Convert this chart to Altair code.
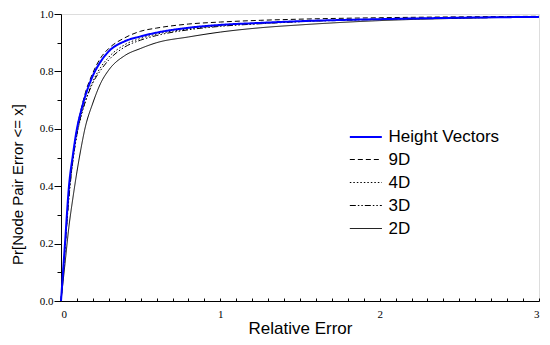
import altair as alt
import pandas as pd

# Relative error grid (x) and CDF values
x_vals = [0, 0.025, 0.05, 0.075, 0.1, 0.125, 0.15, 0.2, 0.25, 0.3, 0.4, 0.5, 0.6, 0.8, 1.0, 1.25, 1.5, 2.0, 2.5, 3.0]
height_vectors = [0, 0.20, 0.40, 0.51, 0.60, 0.66, 0.71, 0.785, 0.835, 0.87, 0.905, 0.922, 0.935, 0.952, 0.962, 0.969, 0.975, 0.982, 0.987, 0.99]
d9 = [0, 0.19, 0.38, 0.50, 0.60, 0.665, 0.72, 0.795, 0.848, 0.88, 0.917, 0.94, 0.951, 0.965, 0.972, 0.978, 0.982, 0.987, 0.99, 0.992]
d4 = [0, 0.18, 0.37, 0.49, 0.58, 0.64, 0.69, 0.765, 0.815, 0.85, 0.893, 0.915, 0.93, 0.948, 0.959, 0.967, 0.974, 0.982, 0.987, 0.99]
d3 = [0, 0.18, 0.36, 0.49, 0.58, 0.645, 0.69, 0.76, 0.805, 0.84, 0.885, 0.909, 0.925, 0.945, 0.957, 0.966, 0.973, 0.981, 0.986, 0.99]
d2 = [0, 0.13, 0.26, 0.36, 0.45, 0.53, 0.60, 0.69, 0.76, 0.805, 0.855, 0.88, 0.90, 0.92, 0.937, 0.952, 0.962, 0.977, 0.985, 0.99]

series_names = ["Height Vectors", "9D", "4D", "3D", "2D"]
series_colors = ["#0000ff", "black", "black", "black", "black"]
series_dashes = [[1, 0], [5, 3], [1.5, 2], [6, 2, 1.5, 2, 1.5, 2], [1, 0]]
series_widths = [2, 1, 1, 1, 1]

x_ticks = [round(i * 0.1, 1) for i in range(31)]
y_ticks = [round(i * 0.1, 1) for i in range(11)]

rows = []
for name, vals in [("2D", d2), ("3D", d3), ("4D", d4), ("9D", d9), ("Height Vectors", height_vectors)]:
    for xv, yv in zip(x_vals, vals):
        rows.append({"x": xv, "y": yv, "series": name})
df = pd.DataFrame(rows)

xscale = alt.Scale(domain=[0, 3], nice=False)
yscale = alt.Scale(domain=[0, 1], nice=False)

yaxis = alt.Axis(
    values=y_ticks,
    labelExpr="round(datum.value*10)%2===0 ? format(datum.value,'.1f') : ''",
    tickSize={"condition": {"test": "round(datum.value*10)%2===0", "value": 7}, "value": 4},
    grid=False, domainColor="black", tickColor="black",
    labelFont="Liberation Serif", labelFontSize=11, labelColor="black", labelPadding=1,
    title="Pr[Node Pair Error <= x]", titleFont="Liberation Sans", titleFontSize=15,
    titleFontWeight="normal", titleColor="black", titleX=-44, titleY=170,
    titleBaseline="middle", titleAngle=270,
)

legend = alt.Legend(
    orient="none", legendX=287.5, legendY=111, title=None,
    symbolType="M-1,0H2", symbolSize=455, labelFontSize=17, labelFont="Liberation Sans",
    labelColor="black", labelOffset=16, rowPadding=3, padding=0,
)

lines = alt.Chart(df).mark_line(interpolate="monotone").encode(
    x=alt.X("x:Q", scale=xscale, axis=alt.Axis(
        values=[0, 1, 2, 3], ticks=False, grid=False, domainColor="black",
        labelFont="Liberation Serif", labelFontSize=11, labelColor="black", labelPadding=7,
        title="Relative Error", titleFont="Liberation Sans", titleFontSize=17,
        titleFontWeight="normal", titleColor="black", titleY=32, titleBaseline="alphabetic",
    )),
    y=alt.Y("y:Q", scale=yscale, axis=yaxis),
    color=alt.Color("series:N", scale=alt.Scale(domain=series_names, range=series_colors), legend=legend),
    strokeDash=alt.StrokeDash("series:N", scale=alt.Scale(domain=series_names, range=series_dashes), legend=legend),
    strokeWidth=alt.StrokeWidth("series:N", scale=alt.Scale(type="ordinal", domain=series_names, range=series_widths), legend=legend),
)

tick_layer = alt.Chart(df).mark_line(opacity=0).encode(
    x=alt.X("x:Q", scale=xscale, axis=alt.Axis(
        orient="bottom", offset=-3, values=x_ticks, tickSize=3, tickColor="black",
        labels=False, domain=False, grid=False, title=None,
    )),
    y=alt.Y("y:Q", scale=yscale, axis=yaxis),
)

chart = alt.layer(lines, tick_layer).resolve_axis(x="independent").properties(
    width=478, height=287,
    autosize=alt.AutoSizeParams(type="none"),
    padding={"left": 53, "top": 6, "right": 3, "bottom": 36},
).configure_view(stroke=None).configure(background="white")

chart.save("out.html", embed_options={"renderer": "svg", "actions": False})
